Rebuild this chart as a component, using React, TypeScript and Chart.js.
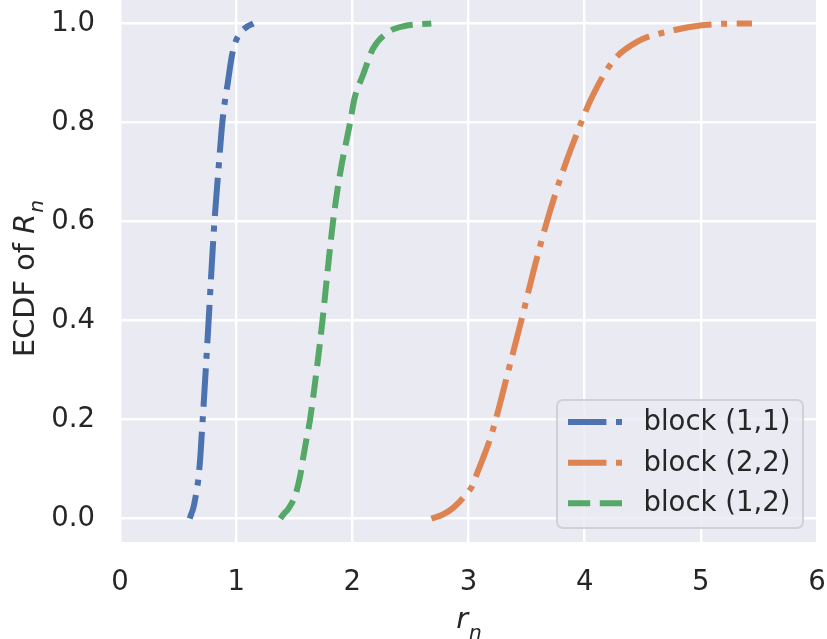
import React, { useEffect, useRef } from "react";
import { Chart, registerables } from "chart.js";

Chart.register(...registerables);

// ECDF curves of R_n for each block (r_n, cumulative fraction)
const block11X = [0.6, 0.615, 0.63, 0.646, 0.674, 0.69, 0.701, 0.712, 0.738, 0.763, 0.787, 0.813, 0.846, 0.881, 0.904, 0.927, 0.962, 0.99, 1.033, 1.09, 1.148];
const block11Y = [0, 0.01, 0.02, 0.038, 0.079, 0.12, 0.16, 0.2, 0.3, 0.4, 0.5, 0.6, 0.7, 0.8, 0.845, 0.879, 0.933, 0.96, 0.98, 0.993, 1.0];

const block22X = [2.68, 2.78, 2.87, 2.955, 3.03, 3.08, 3.13, 3.185, 3.235, 3.345, 3.455, 3.56, 3.675, 3.81, 3.97, 4.05, 4.24, 4.45, 4.76, 4.99, 5.34, 5.44];
const block22Y = [0, 0.008, 0.022, 0.042, 0.065, 0.095, 0.125, 0.16, 0.2, 0.3, 0.4, 0.5, 0.6, 0.7, 0.8, 0.845, 0.923, 0.963, 0.986, 0.996, 1.0, 1.0];

const block12X = [1.38, 1.405, 1.45, 1.506, 1.55, 1.575, 1.605, 1.636, 1.693, 1.743, 1.787, 1.834, 1.897, 1.981, 2.02, 2.09, 2.18, 2.32, 2.45, 2.68];
const block12Y = [0, 0.008, 0.02, 0.045, 0.085, 0.12, 0.16, 0.2, 0.3, 0.4, 0.5, 0.6, 0.7, 0.8, 0.85, 0.895, 0.95, 0.984, 0.995, 1.0];

const seriesLabels = ["block (1,1)", "block (2,2)", "block (1,2)"];
const seriesColors = ["#4C72B0", "#DD8452", "#55A868"];
const yTicks = [0, 0.2, 0.4, 0.6, 0.8, 1.0];
const xTicks = [0, 1, 2, 3, 4, 5, 6];

const DASHDOT = [38.4, 9.6, 6, 9.6];
const DASHED = [22.2, 9.6];
const seriesDash = [DASHDOT, DASHDOT, DASHED];
const seriesDashOffset = [14, 0, 0];

const TEXT = "#262626";
const FONT = "DejaVu Sans";
const TICK_SIZE = 27.5;
const LABEL_SIZE = 28.8;

const toPoints = (xs: number[], ys: number[]) => xs.map((x, i) => ({ x, y: ys[i] }));

const decorPlugin = {
  id: "decor",
  beforeDraw(chart: any) {
    const { ctx, chartArea } = chart;
    ctx.save();
    ctx.fillStyle = "#EAEAF2";
    ctx.fillRect(chartArea.left, chartArea.top, chartArea.right - chartArea.left, chartArea.bottom - chartArea.top);
    ctx.restore();
  },
  afterDraw(chart: any) {
    const { ctx, chartArea } = chart;
    ctx.save();
    ctx.fillStyle = TEXT;
    ctx.textBaseline = "alphabetic";

    // x-axis title: r_n
    const cx = (chartArea.left + chartArea.right) / 2;
    ctx.font = `italic ${LABEL_SIZE}px "${FONT}"`;
    const wr = ctx.measureText("r").width;
    ctx.font = `italic ${LABEL_SIZE * 0.7}px "${FONT}"`;
    const wn = ctx.measureText("n").width;
    const x0 = cx - (wr + wn) / 2;
    ctx.font = `italic ${LABEL_SIZE}px "${FONT}"`;
    ctx.fillText("r", x0, 628);
    ctx.font = `italic ${LABEL_SIZE * 0.7}px "${FONT}"`;
    ctx.fillText("n", x0 + wr + 1, 639);

    // y-axis title: ECDF of R_n
    const cy = (chartArea.top + chartArea.bottom) / 2 + 8;
    ctx.font = `${LABEL_SIZE}px "${FONT}"`;
    const w1 = ctx.measureText("ECDF of ").width;
    ctx.font = `italic ${LABEL_SIZE}px "${FONT}"`;
    const w2 = ctx.measureText("R").width;
    ctx.font = `italic ${LABEL_SIZE * 0.7}px "${FONT}"`;
    const w3 = ctx.measureText("n").width;
    const total = w1 + w2 + w3;
    ctx.translate(34, cy);
    ctx.rotate(-Math.PI / 2);
    let px = -total / 2;
    ctx.font = `${LABEL_SIZE}px "${FONT}"`;
    ctx.fillText("ECDF of ", px, 0);
    px += w1;
    ctx.font = `italic ${LABEL_SIZE}px "${FONT}"`;
    ctx.fillText("R", px, 0);
    px += w2;
    ctx.font = `italic ${LABEL_SIZE * 0.7}px "${FONT}"`;
    ctx.fillText("n", px + 1, 9);
    ctx.restore();

    // legend
    ctx.save();
    const bx = 557, by = 400, bw = 246, bh = 128, r = 6;
    ctx.beginPath();
    ctx.moveTo(bx + r, by);
    ctx.arcTo(bx + bw, by, bx + bw, by + bh, r);
    ctx.arcTo(bx + bw, by + bh, bx, by + bh, r);
    ctx.arcTo(bx, by + bh, bx, by, r);
    ctx.arcTo(bx, by, bx + bw, by, r);
    ctx.closePath();
    ctx.fillStyle = "rgba(234,234,242,0.8)";
    ctx.fill();
    ctx.lineWidth = 2;
    ctx.strokeStyle = "#d0d0d6";
    ctx.stroke();
    const rows = [422, 462.7, 503.3];
    seriesLabels.forEach((lab, i) => {
      const y = rows[i];
      ctx.beginPath();
      ctx.setLineDash(seriesDash[i]);
      ctx.lineDashOffset = 0;
      ctx.lineCap = "butt";
      ctx.lineWidth = 6;
      ctx.strokeStyle = seriesColors[i];
      ctx.moveTo(568, y);
      ctx.lineTo(623, y);
      ctx.stroke();
      ctx.setLineDash([]);
      ctx.fillStyle = TEXT;
      ctx.font = `${TICK_SIZE}px "${FONT}"`;
      ctx.textBaseline = "middle";
      ctx.fillText(lab, 643.5, y + 1);
    });
    ctx.restore();
  },
};

export default function App() {
  const ref = useRef<HTMLCanvasElement | null>(null);

  useEffect(() => {
    if (!ref.current) return;
    const datasets = [
      toPoints(block11X, block11Y),
      toPoints(block22X, block22Y),
      toPoints(block12X, block12Y),
    ].map((data, i) => ({
      label: seriesLabels[i],
      data,
      borderColor: seriesColors[i],
      backgroundColor: seriesColors[i],
      borderWidth: 6,
      borderDash: seriesDash[i],
      borderDashOffset: seriesDashOffset[i],
      borderCapStyle: "butt" as const,
      borderJoinStyle: "round" as const,
      pointRadius: 0,
      fill: false,
      cubicInterpolationMode: "monotone" as const,
    }));

    const chart = new Chart(ref.current, {
      type: "line",
      data: { datasets },
      plugins: [decorPlugin],
      options: {
        animation: false,
        responsive: false,
        devicePixelRatio: 1,
        layout: { padding: { top: 0, right: 10, left: 0, bottom: 0 } },
        plugins: { legend: { display: false }, tooltip: { enabled: false } },
        scales: {
          x: {
            type: "linear",
            min: 0,
            max: 6,
            afterBuildTicks: (s: any) => {
              s.ticks = xTicks.map((v) => ({ value: v }));
            },
            afterFit: (s: any) => {
              s.height = 97;
              s.paddingLeft = 0;
              s.paddingRight = 0;
            },
            ticks: {
              color: TEXT,
              font: { family: FONT, size: TICK_SIZE },
              padding: 24,
              maxRotation: 0,
              callback: (v: any) => String(v),
            },
            grid: { color: "#ffffff", lineWidth: 2.4, drawTicks: false },
            border: { display: false },
          },
          y: {
            type: "linear",
            min: -0.0475,
            max: 1.0475,
            afterBuildTicks: (s: any) => {
              s.ticks = yTicks.map((v) => ({ value: v }));
            },
            afterFit: (s: any) => {
              s.width = 120;
              s.paddingTop = 0;
              s.paddingBottom = 0;
            },
            ticks: {
              color: TEXT,
              font: { family: FONT, size: TICK_SIZE },
              padding: 25,
              callback: (v: any) => Number(v).toFixed(1),
            },
            grid: { color: "#ffffff", lineWidth: 2.4, drawTicks: false },
            border: { display: false },
          },
        },
      },
    });
    return () => chart.destroy();
  }, []);

  return (
    <div style={{ position: "absolute", left: 0, top: 0, width: 827, height: 639, background: "#ffffff" }}>
      <canvas ref={ref} width={827} height={639} style={{ display: "block" }} />
    </div>
  );
}
